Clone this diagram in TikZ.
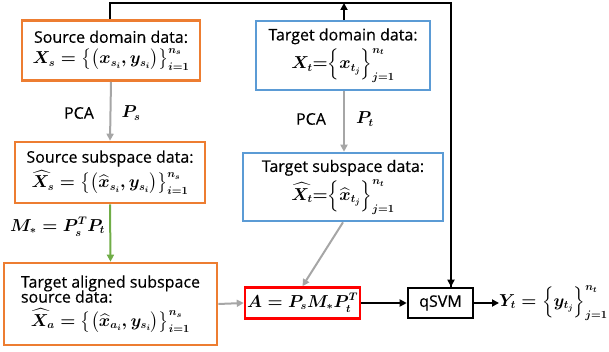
\documentclass[tikz,border=0pt]{standalone}
\usepackage{amsmath}
\usepackage{fontspec}
\setmainfont{Open Sans}[FakeBold=0.4]
\usetikzlibrary{arrows.meta}
\definecolor{orng}{HTML}{ED7D31}
\definecolor{blu}{HTML}{5B9BD5}
\definecolor{grn}{HTML}{70AD47}
\definecolor{gry}{HTML}{A6A6A6}
\definecolor{rd}{HTML}{FF0000}
\newcommand{\mth}[1]{{\fontsize{16}{18}\selectfont$#1$}}
\tikzset{
  box/.style={draw, line width=2.6pt, inner sep=1pt, align=center, font=\fontsize{16}{18}\selectfont\boldmath},
  obox/.style={box, draw=orng},
  bbox/.style={box, draw=blu},
  garrow/.style={draw=gry, line width=2pt, -{Triangle[length=7pt,width=7pt]}},
  karrow/.style={draw=black, line width=2pt, -{Triangle[length=7pt,width=7pt]}},
  lbl/.style={font=\fontsize{16}{18}\selectfont\boldmath, inner sep=0pt}
}
\begin{document}
\begin{tikzpicture}[x=1pt,y=-1pt]
\useasboundingbox (0,0) rectangle (609,352);
\node[obox, minimum width=178pt, minimum height=60pt] (src) at (111,50.5)
  {Source domain data:\\[3pt]\mth{X_s=\big\{\big(x_{s_i},y_{s_i}\big)\big\}_{i=1}^{n_s}}};
\node[bbox, minimum width=174pt, minimum height=69pt] (tgt) at (343,55.5)
  {Target domain data:\\[3pt]\mth{X_t{=}\Big\{x_{t_j}\Big\}_{j=1}^{n_t}}};
\node[obox, minimum width=190pt, minimum height=61pt] (srcsub) at (110,172.5)
  {Source subspace data:\\[3pt]\mth{\widehat{X}_s=\big\{\big(\widehat{x}_{s_i},y_{s_i}\big)\big\}_{i=1}^{n_s}}};
\node[bbox, minimum width=200pt, minimum height=68pt] (tgtsub) at (343,187)
  {Target subspace data:\\[3pt]\mth{\widehat{X}_t{=}\Big\{\widehat{x}_{t_j}\Big\}_{j=1}^{n_t}}};
\node[obox, minimum width=213pt, minimum height=82pt] (align) at (110.5,304)
  {\begin{tabular}{@{}l@{}}Target aligned subspace\\[-3pt]source data:\\[1pt]\multicolumn{1}{@{}c@{}}{\mth{\widehat{X}_a=\big\{\big(\widehat{x}_{a_i},y_{s_i}\big)\big\}_{i=1}^{n_s}}}\end{tabular}};
\node[box, draw=rd, minimum width=115pt, minimum height=31pt] (A) at (302.5,303)
  {\mth{A=P_sM_*P_t^T}};
\node[box, draw=black, minimum width=65pt, minimum height=30pt] (svm) at (440.5,303) {qSVM};
\node[lbl, anchor=west] (Y) at (499,303) {\mth{Y_t=\Big\{y_{t_j}\Big\}_{j=1}^{n_t}}};
\node[lbl] (pca1) at (79,113) {PCA};
\node[lbl] (ps) at (131,113) {\mth{P_s}};
\node[lbl] (pca2) at (311,119) {PCA};
\node[lbl] (pt) at (365,119) {\mth{P_t}};
\node[lbl, anchor=west] (mstar) at (10,227) {\mth{M_*=P_s^TP_t}};
\coordinate (tl) at (110,3);
\coordinate (tr) at (451,3);
\coordinate (tm) at (344,3);
\draw[garrow] (src.south) -- (srcsub.north);
\draw[garrow] (tgt.south -| tm) -- (tgtsub.north -| tm);
\draw[grn, line width=2pt, -{Triangle[length=7pt,width=7pt]}] (srcsub.south) -- (align.north);
\draw[garrow] (tgtsub.south) -- (A.north);
\draw[garrow] (align.east) -- (A.west);
\draw[karrow] (A.east) -- (svm.west);
\draw[karrow] (svm.east) -- (Y.west);
\draw[line width=2pt, line join=miter] (src.north -| tl) -- (tl) -- (tr) -- (tr |- svm.north) ;
\draw[karrow] (tr) -- (tr |- svm.north);
\draw[karrow] (tgt.north -| tm) -- (tm);
\end{tikzpicture}
\end{document}
